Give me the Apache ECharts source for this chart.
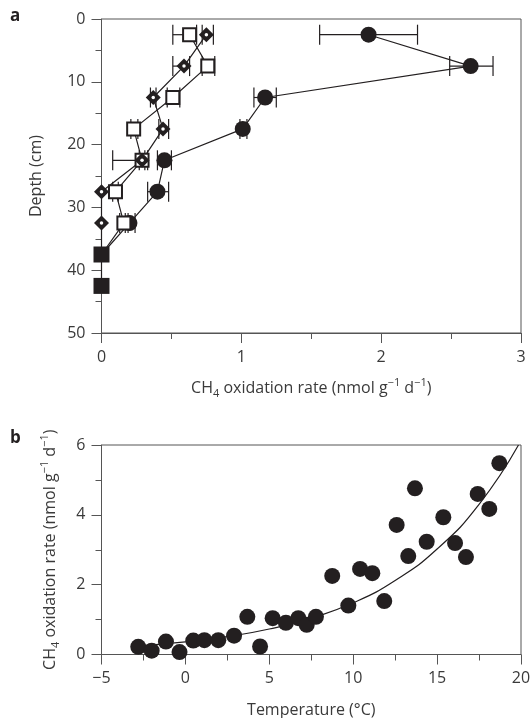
<!DOCTYPE html>
<html><head><meta charset="utf-8">
<script src="https://cdn.jsdelivr.net/npm/echarts@6/dist/echarts.min.js"></script>
<style>html,body{margin:0;padding:0;background:#fff}#c{width:531px;height:718px}</style>
</head><body><div id="c"></div>
<script>
// ---- Panel a data ----
const depths = [2.5, 7.5, 12.5, 17.5, 22.5, 27.5, 32.5];
const circleRate = [1.91, 2.64, 1.17, 1.01, 0.45, 0.40, 0.20];
const circleLow  = [1.56, 2.49, 1.09, 0.99, 0.40, 0.33, 0.17];
const circleHigh = [2.26, 2.80, 1.25, 1.04, 0.50, 0.48, 0.24];
const squareRate = [0.63, 0.76, 0.51, 0.23, 0.29, 0.10, 0.16];
const squareLow  = [0.51, 0.72, 0.47, 0.21, 0.08, 0.08, 0.13];
const squareHigh = [0.68, 0.81, 0.56, 0.26, 0.33, 0.12, 0.19];
const diamondRate = [0.75, 0.59, 0.37, 0.44, 0.29, 0.00, 0.00];
const diamondLow  = [0.72, 0.51, 0.35, 0.41, 0.27, 0.00, 0.00];
const diamondHigh = [0.80, 0.63, 0.39, 0.48, 0.31, 0.00, 0.00];
const deepDepths = [37.5, 42.5];
const deepRate = [0, 0];
const depthTicks = [0, 10, 20, 30, 40, 50];
const rateTicksA = [0, 1, 2, 3];

// ---- Panel b data ----
const temperature = [-2.81, -2.01, -1.16, -0.35, 0.47, 1.13, 1.96, 2.90, 3.69, 4.45, 5.20, 5.99, 6.73, 7.23, 7.78, 8.75, 9.71, 10.41, 11.14, 11.85, 12.59, 13.28, 13.68, 14.38, 15.37, 16.07, 16.72, 17.42, 18.11, 18.71];
const oxRate = [0.22, 0.11, 0.37, 0.07, 0.40, 0.41, 0.41, 0.54, 1.08, 0.23, 1.04, 0.91, 1.04, 0.85, 1.08, 2.25, 1.40, 2.45, 2.33, 1.53, 3.71, 2.82, 4.76, 3.23, 3.93, 3.19, 2.79, 4.60, 4.17, 5.48];
const fitTemp = [-3, 0, 2.5, 5, 7.5, 10, 12.5, 15, 17.5, 19.85];
const fitRate = [0.24, 0.36, 0.51, 0.73, 1.04, 1.48, 2.12, 3.02, 4.3, 6.0];
const tempTicks = [-5, 0, 5, 10, 15, 20];
const rateTicksB = [0, 2, 4, 6];

const INK = '#231f20';
const AX = '#555555';
const TXT = '#3a3a3a';
const FONT = 'Open Sans';

const zipPts = (xs, ys) => xs.map((x, i) => [x, ys[i]]);
const errData = (lo, hi) => depths.map((d, i) => [d, lo[i], hi[i]]).filter(r => r[2] > r[1]);

function errorSeries(lo, hi) {
  return {
    type: 'custom', xAxisIndex: 0, yAxisIndex: 0, z: 2,
    data: errData(lo, hi),
    encode: { x: [1, 2], y: 0 },
    renderItem: function (params, api) {
      const d = api.value(0);
      const a = api.coord([api.value(1), d]);
      const b = api.coord([api.value(2), d]);
      const h = 10;
      const st = { stroke: INK, lineWidth: 1.2 };
      return { type: 'group', children: [
        { type: 'line', shape: { x1: a[0], y1: a[1], x2: b[0], y2: b[1] }, style: st },
        { type: 'line', shape: { x1: a[0], y1: a[1] - h, x2: a[0], y2: a[1] + h }, style: st },
        { type: 'line', shape: { x1: b[0], y1: b[1] - h, x2: b[0], y2: b[1] + h }, style: st }
      ]};
    }
  };
}
function connector(rates) {
  const pts = zipPts(rates, depths);
  pts.push([deepRate[0], deepDepths[0]]);
  return { type: 'line', xAxisIndex: 0, yAxisIndex: 0, data: pts, symbol: 'none', z: 1,
    lineStyle: { color: INK, width: 1.2 } };
}

const axisCommon = (extra) => Object.assign({
  axisLine: { onZero: false, lineStyle: { color: AX, width: 1 } },
  axisTick: { length: 10, lineStyle: { color: AX } },
  minorTick: { show: true, splitNumber: 2, length: 6, lineStyle: { color: AX } },
  splitLine: { show: false },
  axisLabel: { fontFamily: FONT, fontSize: 16, color: TXT, margin: 16,
    formatter: v => String(v).replace('-', '\u2212') },
  nameTextStyle: { fontFamily: FONT, fontSize: 16, color: TXT, lineHeight: 22,
    rich: {
      n: { fontFamily: FONT, fontSize: 16, color: TXT, lineHeight: 22, verticalAlign: 'middle' },
      sub: { fontFamily: FONT, fontSize: 11, color: TXT, verticalAlign: 'bottom', lineHeight: 11 },
      sup: { fontFamily: FONT, fontSize: 11, color: TXT, verticalAlign: 'top', lineHeight: 11 }
    }
  },
  nameLocation: 'middle'
}, extra);

const CHNAME = '{n|CH}{sub|4}{n| oxidation rate (nmol g}{sup|−1}{n| d}{sup|−1}{n|)}';

const option = {
  animation: false,
  backgroundColor: '#fff',
  grid: [
    { left: 101.5, right: 10, top: 19, bottom: 385, show: true, borderColor: AX, borderWidth: 1,
      containLabel: false, outerBoundsMode: 'none' },
    { left: 101.5, right: 10, top: 445, bottom: 63.5, show: true, borderColor: AX, borderWidth: 1,
      containLabel: false, outerBoundsMode: 'none' }
  ],
  xAxis: [
    axisCommon({ gridIndex: 0, type: 'value', min: rateTicksA[0], max: rateTicksA[rateTicksA.length - 1], interval: 1,
      name: CHNAME, nameGap: 44 }),
    axisCommon({ gridIndex: 1, type: 'value', min: tempTicks[0], max: tempTicks[tempTicks.length - 1], interval: 5,
      name: 'Temperature (°C)', nameGap: 45 })
  ],
  yAxis: [
    axisCommon({ gridIndex: 0, type: 'value', inverse: true, min: depthTicks[0], max: depthTicks[depthTicks.length - 1], interval: 10,
      name: 'Depth (cm)', nameGap: 54 }),
    axisCommon({ gridIndex: 1, type: 'value', min: rateTicksB[0], max: rateTicksB[rateTicksB.length - 1], interval: 2,
      name: CHNAME, nameGap: 40 })
  ],
  graphic: [
    { type: 'text', left: 10, top: 8, style: { text: 'a', font: 'bold 17px "Open Sans"', fill: INK } },
    { type: 'text', left: 10, top: 430, style: { text: 'b', font: 'bold 17px "Open Sans"', fill: INK } }
  ],
  series: [
    connector(circleRate),
    connector(squareRate),
    connector(diamondRate),
    { type: 'line', xAxisIndex: 0, yAxisIndex: 0, data: zipPts(deepRate, deepDepths), z: 3,
      symbol: 'rect', symbolSize: 16, itemStyle: { color: INK, opacity: 1 }, lineStyle: { color: INK, width: 1.2 } },
    errorSeries(circleLow, circleHigh),
    errorSeries(squareLow, squareHigh),
    errorSeries(diamondLow, diamondHigh),
    { type: 'scatter', xAxisIndex: 0, yAxisIndex: 0, data: zipPts(circleRate, depths), z: 4,
      symbol: 'circle', symbolSize: 16, itemStyle: { color: INK, opacity: 1 } },
    { type: 'scatter', xAxisIndex: 0, yAxisIndex: 0, data: zipPts(squareRate, depths), z: 5,
      symbol: 'rect', symbolSize: 13, itemStyle: { color: '#fff', borderColor: INK, borderWidth: 2, opacity: 1 } },
    { type: 'scatter', xAxisIndex: 0, yAxisIndex: 0, data: zipPts(diamondRate, depths), z: 6,
      symbol: 'diamond', symbolSize: 15, itemStyle: { color: INK, opacity: 1 } },
    { type: 'scatter', xAxisIndex: 0, yAxisIndex: 0, data: zipPts(diamondRate, depths), z: 7,
      symbol: 'circle', symbolSize: 3.5, itemStyle: { color: '#fff', opacity: 1 } },
    // panel b
    { type: 'line', xAxisIndex: 1, yAxisIndex: 1, data: zipPts(fitTemp, fitRate), smooth: true, symbol: 'none', z: 1,
      lineStyle: { color: INK, width: 1.2 } },
    { type: 'scatter', xAxisIndex: 1, yAxisIndex: 1, data: zipPts(temperature, oxRate), z: 4,
      symbol: 'circle', symbolSize: 16, itemStyle: { color: INK, opacity: 1 } }
  ]
};
const chart = echarts.init(document.getElementById('c'), null, { renderer: 'canvas' });
chart.setOption(option);
</script></body></html>
